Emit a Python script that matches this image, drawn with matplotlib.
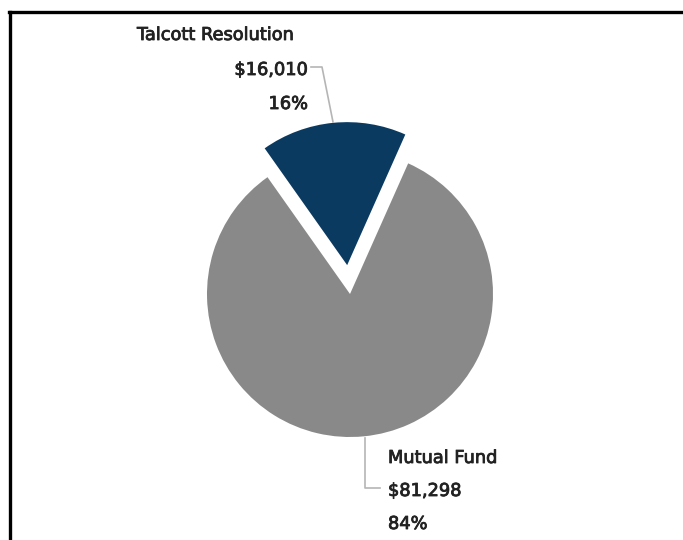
import matplotlib
matplotlib.use("Agg")
import matplotlib.pyplot as plt
import matplotlib.patheffects as pe
from matplotlib.lines import Line2D

labels = ["Talcott Resolution", "Mutual Fund"]
values = [16010, 81298]
colors = ["#0b3a61", "#898989"]

W, H = 683, 540
fig = plt.figure(figsize=(W / 100, H / 100), dpi=100)
fig.patch.set_facecolor("white")
ax = fig.add_axes([0, 0, 1, 1])

cx, cy, r = 350, H - 294, 143
ax.pie(values, colors=colors, startangle=66, counterclock=True,
       explode=[29, 0.0], center=(cx, cy), radius=r, frame=True,
       wedgeprops=dict(linewidth=0))
ax.set_xlim(0, W)
ax.set_ylim(0, H)
ax.set_aspect("equal")
ax.axis("off")

total = sum(values)
amounts = ["${:,}".format(v) for v in values]
pcts = ["{:.0f}%".format(100 * v / total) for v in values]

txt_c = "#222222"
font = dict(family=["DejaVu Sans"], fontsize=12.8, color=txt_c,
            fontweight="normal",
            path_effects=[pe.withStroke(linewidth=0.6, foreground=txt_c)])
line_c = "#b5b5b5"

# Talcott Resolution labels
ax.text(137, H - 35, labels[0], ha="left", va="center", **font)
ax.text(308, H - 70, amounts[0], ha="right", va="center", **font)
ax.text(308, H - 104, pcts[0], ha="right", va="center", **font)
ax.plot([311, 322, 333], [H - 67, H - 67, H - 122], color=line_c, lw=1.2)

# Mutual Fund labels
ax.text(388, H - 458, labels[1], ha="left", va="center", **font)
ax.text(388, H - 491, amounts[1], ha="left", va="center", **font)
ax.text(388, H - 524, pcts[1], ha="left", va="center", **font)
ax.plot([365, 365, 380], [H - 438, H - 488, H - 488], color=line_c, lw=1.2)

# frame border (top and left)
fig.add_artist(Line2D([9 / W, 1], [1 - 12 / H, 1 - 12 / H], color="black", lw=2.4,
                      transform=fig.transFigure))
fig.add_artist(Line2D([10 / W, 10 / W], [0, 1 - 12 / H], color="black", lw=2.4,
                      transform=fig.transFigure))

fig.savefig("out.png", dpi=100, facecolor="white")
